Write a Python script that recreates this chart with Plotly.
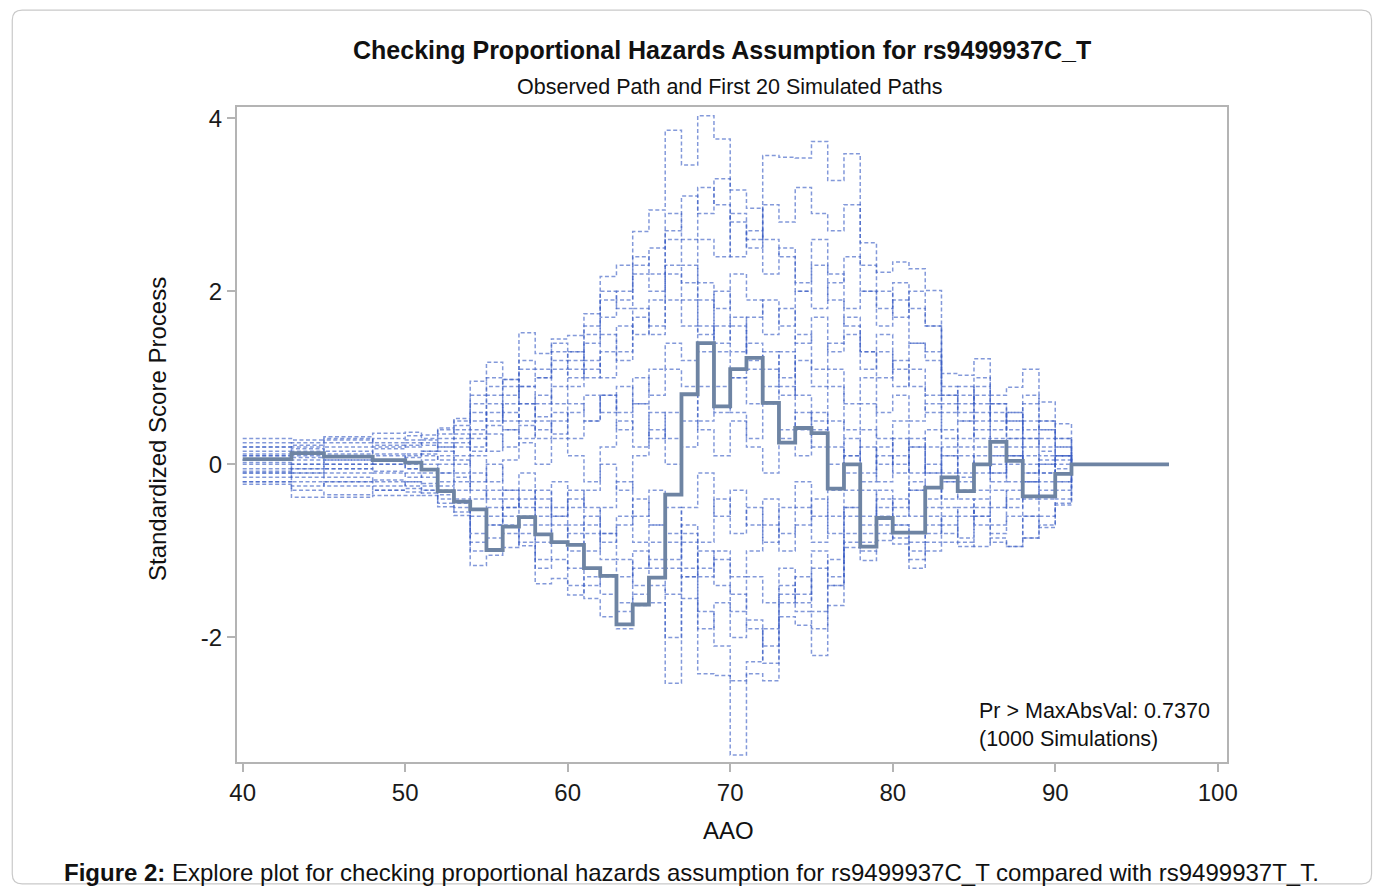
import plotly.graph_objects as go

# event times (AAO) where the score process steps; last value is end of follow-up
aao = [40, 43, 45, 48, 50, 51, 52, 53, 54, 55, 56, 57, 58, 59, 60, 61, 62, 63, 64, 65,
       66, 67, 68, 69, 70, 71, 72, 73, 74, 75, 76, 77, 78, 79, 80, 81, 82, 83, 84, 85,
       86, 87, 88, 89, 90, 91, 97]

observed = [0.06, 0.13, 0.09, 0.05, 0.02, -0.06, -0.31, -0.43, -0.52, -0.99, -0.72, -0.61,
            -0.81, -0.90, -0.93, -1.20, -1.29, -1.85, -1.62, -1.31, -0.35, 0.81, 1.40, 0.67,
            1.10, 1.23, 0.71, 0.25, 0.42, 0.36, -0.28, 0.00, -0.95, -0.62, -0.79, -0.79,
            -0.27, -0.15, -0.31, 0.00, 0.26, 0.04, -0.37, -0.37, -0.11, 0.00]

# first 20 simulated paths
path_a = [0.10, 0.15, 0.20, 0.22, 0.25, 0.28, 0.35, 0.45, 0.96, 1.18, 0.98, 1.52, 1.28, 1.45, 1.49, 1.74,
          2.17, 2.30, 2.69, 2.94, 3.86, 3.46, 4.03, 3.76, 3.17, 2.96, 2.6, 2.4, 2.1, 2.3, 1.9, 1.6,
          1.3, 1.0, 1.2, 0.9, 0.6, 0.3, 0.5, 0.3, 0.1, 0.2, -0.1, 0.0, 0.1, 0.0]
path_b = [0.2, 0.22, 0.25, 0.3, 0.33, 0.3, 0.42, 0.53, 0.7, 0.9, 0.8, 1.1, 1.0, 1.3, 1.2, 1.5,
          1.9, 2.0, 2.3, 2.5, 2.7, 3.1, 2.9, 3.3, 2.8, 2.6, 3.57, 3.55, 3.54, 3.73, 3.28, 3.59,
          2.56, 2.22, 2.34, 2.26, 2.01, 1.05, 1.03, 1.22, 0.8, 0.89, 1.1, 0.72, 0.47, 0.0]
path_c = [-0.1, -0.2, -0.25, -0.3, -0.32, -0.36, -0.49, -0.59, -0.8, -0.7, -0.96, -0.8, -1.2, -1.1, -1.4, -1.55,
          -1.76, -1.9, -1.5, -1.6, -2.0, -1.55, -2.42, -2.44, -3.36, -2.42, -2.5, -1.5, -1.7, -1.9, -1.4, -0.96,
          -1.0, -0.8, -0.85, -1.1, -1.0, -0.9, -0.9, -0.95, -0.85, -0.95, -0.85, -0.7, -0.45, 0.0]
path_d = [0.0, -0.1, -0.15, -0.2, -0.25, -0.3, -0.35, -0.45, -1.17, -1.05, -0.7, -0.94, -1.38, -1.32, -1.51, -1.3,
          -1.5, -1.6, -1.63, -1.4, -2.53, -1.3, -1.7, -2.1, -2.5, -2.28, -1.9, -1.4, -1.6, -1.2, -1.4, -0.8,
          -0.6, -0.7, -0.4, -0.6, -0.7, -0.5, -0.6, -0.4, -0.5, -0.3, -0.4, -0.2, -0.3, 0.0]
path_e = [0.15, 0.1, 0.12, 0.18, 0.2, 0.15, 0.25, 0.3, 0.6, 0.5, 0.7, 0.9, 1.0, 1.2, 1.0, 1.4,
          1.7, 1.9, 2.2, 2.0, 2.9, 2.6, 3.2, 3.0, 2.4, 2.7, 2.2, 2.5, 2.0, 2.6, 2.2, 1.8,
          2.0, 1.6, 1.9, 1.4, 1.3, 0.8, 0.9, 0.7, 0.5, 0.6, 0.4, 0.5, 0.3, 0.0]
path_f = [0.05, 0.08, 0.05, 0.1, 0.12, 0.1, 0.05, 0.2, 0.35, 0.6, 0.4, 0.7, 0.55, 0.9, 1.1, 1.0,
          1.3, 1.6, 1.5, 1.9, 2.3, 2.1, 2.6, 2.4, 2.9, 2.5, 3.0, 2.8, 3.2, 2.9, 2.7, 3.0,
          2.3, 2.0, 1.7, 2.0, 1.6, 0.9, 0.7, 1.0, 0.6, 0.4, 0.7, 0.4, 0.2, 0.0]
path_g = [0.25, 0.2, 0.3, 0.25, 0.28, 0.22, 0.3, 0.4, 0.5, 0.8, 0.6, 0.5, 0.8, 0.7, 0.9, 1.2,
          1.0, 1.3, 1.7, 1.5, 1.9, 1.6, 2.1, 1.8, 2.2, 1.9, 1.5, 1.8, 1.4, 1.7, 1.3, 1.5,
          1.1, 1.3, 0.9, 1.1, 0.8, 0.6, 0.8, 0.5, 0.7, 0.3, 0.5, 0.2, 0.1, 0.0]
path_h = [-0.05, 0.0, 0.05, 0.0, -0.05, 0.05, 0.1, 0.0, 0.3, 0.15, 0.4, 0.3, 0.5, 0.35, 0.6, 0.8,
          0.6, 0.9, 0.7, 1.1, 1.4, 1.2, 1.6, 1.3, 1.0, 1.4, 1.1, 0.8, 1.2, 0.9, 1.1, 0.7,
          1.0, 0.6, 0.8, 0.5, 0.7, 0.4, 0.2, 0.4, 0.1, 0.3, 0.0, 0.15, -0.1, 0.0]
path_i = [0.1, 0.05, 0.0, 0.05, 0.0, -0.05, 0.0, -0.1, 0.1, -0.2, 0.05, 0.25, 0.0, 0.3, 0.1, -0.2,
          0.2, 0.5, 0.2, 0.6, 0.3, 0.8, 0.4, 0.1, 0.5, 0.2, -0.1, 0.3, 0.6, 0.2, 0.5, 0.1,
          0.4, 0.0, 0.3, -0.1, 0.2, -0.2, 0.1, -0.1, 0.2, 0.0, 0.3, 0.1, -0.05, 0.0]
path_j = [-0.15, -0.1, -0.05, -0.1, -0.15, -0.1, -0.2, -0.3, -0.1, -0.4, -0.3, -0.5, -0.3, -0.6, -0.4, -0.7,
          -0.5, -0.2, -0.6, -0.3, -0.8, -0.5, -0.1, -0.6, -0.3, -0.7, -0.4, -0.8, -0.5, -0.9, -0.6, -0.3,
          -0.7, -0.4, -0.6, -0.3, -0.5, -0.2, -0.4, -0.6, -0.3, -0.5, -0.2, -0.4, -0.2, 0.0]
path_k = [-0.2, -0.25, -0.2, -0.25, -0.2, -0.25, -0.3, -0.4, -0.6, -0.5, -0.8, -0.6, -0.9, -0.7, -1.0, -0.8,
          -1.1, -1.3, -1.0, -1.2, -0.9, -1.3, -1.0, -1.4, -1.7, -1.3, -1.6, -1.2, -1.5, -1.0, -1.3, -0.6,
          -0.9, -0.5, -0.7, -0.9, -0.6, -0.8, -0.5, -0.7, -0.8, -0.6, -0.85, -0.6, -0.4, 0.0]
path_l = [0.02, -0.05, -0.1, -0.08, -0.1, -0.15, -0.1, -0.2, -0.4, -0.3, -0.5, -0.4, -0.6, -0.9, -0.7, -1.0,
          -0.8, -1.1, -1.4, -1.1, -1.5, -1.2, -1.9, -1.6, -2.0, -1.8, -2.3, -1.6, -1.3, -1.7, -1.1, -0.5,
          -0.8, -0.3, -0.5, -0.2, -0.4, -0.1, -0.3, 0.0, -0.2, 0.1, -0.1, 0.05, -0.1, 0.0]
path_m = [-0.1, -0.05, 0.0, 0.05, 0.1, 0.15, 0.2, 0.1, 0.4, 0.7, 0.5, 0.9, 0.7, 1.1, 1.3, 1.1,
          1.5, 1.2, 1.8, 1.6, 2.2, 1.9, 1.5, 2.0, 1.6, 1.2, 0.9, 1.3, 0.8, 0.5, 0.9, 0.4,
          0.7, 0.3, 0.0, 0.3, -0.1, 0.2, -0.2, 0.1, -0.1, 0.1, -0.2, 0.0, 0.1, 0.0]
path_n = [-0.2, -0.3, -0.35, -0.3, -0.28, -0.3, -0.4, -0.5, -0.9, -0.7, -0.4, -0.7, -0.5, -0.2, -0.5, -0.3,
          0.0, -0.3, 0.1, 0.4, 0.0, 0.5, 0.9, 0.6, 1.0, 0.7, 1.3, 1.0, 1.5, 1.1, 1.4, 1.7,
          1.3, 1.5, 1.1, 1.4, 1.2, 0.7, 0.5, 0.8, 0.4, 0.6, 0.3, 0.4, 0.2, 0.0]
path_o = [0.05, 0.0, -0.05, 0.0, -0.05, 0.0, -0.1, 0.05, -0.2, 0.0, -0.3, -0.1, -0.4, -0.6, -0.3, -0.5,
          -0.8, -0.6, -0.9, -0.7, -1.1, -0.8, -1.3, -1.1, -1.5, -1.9, -2.1, -1.76, -1.86, -2.21, -1.63, -0.9,
          -1.11, -0.88, -0.7, -1.0, -0.8, -0.6, -0.85, -0.5, -0.7, -0.4, -0.6, -0.3, -0.2, 0.0]
path_p = [0.3, 0.28, 0.32, 0.36, 0.37, 0.34, 0.4, 0.5, 0.8, 1.0, 0.9, 1.2, 1.1, 1.4, 1.3, 1.6,
          2.0, 1.8, 2.4, 2.2, 2.6, 2.3, 1.9, 1.4, 1.7, 1.1, 0.7, 0.9, 0.4, 0.6, 0.2, -0.1,
          0.2, -0.2, 0.1, -0.3, 0.0, -0.4, -0.1, -0.3, 0.0, -0.2, 0.1, -0.1, 0.05, 0.0]
path_q = [-0.23, -0.38, -0.38, -0.36, -0.36, -0.33, -0.45, -0.55, -1.0, -0.85, -0.6, -0.9, -1.1, -0.9, -1.2, -1.4,
          -1.3, -1.7, -1.2, -0.9, -1.2, -0.7, -0.9, -0.4, -0.8, -0.5, -0.9, -0.5, -0.2, -0.6, -0.3, 0.1,
          -0.2, 0.1, -0.1, 0.2, -0.1, 0.1, -0.15, 0.2, -0.1, 0.1, -0.2, -0.1, 0.0, 0.0]
path_r = [0.12, 0.18, 0.15, 0.12, 0.08, 0.12, 0.15, 0.25, 0.15, 0.35, 0.2, 0.45, 0.3, 0.5, 0.7, 0.5,
          0.8, 0.6, 1.0, 0.8, 1.1, 0.9, 1.3, 1.6, 1.3, 1.7, 1.9, 1.6, 2.0, 1.8, 2.1, 2.4,
          2.0, 1.8, 2.1, 1.8, 1.6, 0.8, 0.6, 0.9, 0.7, 0.5, 0.8, 0.5, 0.3, 0.0]
path_s = [-0.08, -0.15, -0.2, -0.18, -0.2, -0.22, -0.25, -0.15, -0.3, -0.6, -0.5, -0.3, -0.7, -0.5, -0.8, -0.6,
          -0.9, -0.7, -0.4, -0.7, -0.5, -0.9, -1.2, -1.0, -1.3, -1.0, -0.7, -1.0, -0.7, -0.4, -0.8, -0.5,
          -0.3, -0.6, -0.92, -1.2, -0.9, -0.7, -0.95, -0.6, -0.9, -0.95, -0.6, -0.73, -0.47, 0.0]
path_t = [0.2, 0.25, 0.28, 0.2, 0.22, 0.25, 0.2, 0.35, 0.2, 0.45, 0.98, 0.7, 0.4, 0.6, 0.3, 0.5,
          0.8, 0.4, 0.7, 0.3, 0.6, 0.2, 0.5, 0.9, 0.6, 0.3, 0.7, 0.4, 0.1, 0.4, 0.0, 0.3,
          -0.1, 0.2, 0.5, 0.2, 0.4, 0.1, 0.3, 0.6, 0.3, 0.5, 0.2, 0.3, 0.1, 0.0]

sim_paths = [path_a, path_b, path_c, path_d, path_e, path_f, path_g, path_h, path_i, path_j,
             path_k, path_l, path_m, path_n, path_o, path_p, path_q, path_r, path_s, path_t]

FONT = "Liberation Sans, Arial, sans-serif"
L, T, W, H = 237, 107, 990, 655   # plot area in page pixels


def px(xp):
    return (xp - L) / W


def py(yp):
    return (T + H - yp) / H


fig = go.Figure()

for path in sim_paths:
    fig.add_trace(go.Scatter(
        x=aao, y=path + [path[-1]],
        mode="lines", line_shape="hv",
        line=dict(color="rgba(55,90,195,0.62)", width=1.5, dash="4px,2.5px"),
        hoverinfo="skip", showlegend=False))

fig.add_trace(go.Scatter(
    x=aao, y=observed + [observed[-1]],
    mode="lines", line_shape="hv",
    line=dict(color="#6e84a3", width=3.8),
    name="Observed", showlegend=False))

axis_style = dict(showline=True, linecolor="#b4b4b4", linewidth=2, mirror=True,
                  ticks="outside", ticklen=8, tickcolor="#b4b4b4", tickwidth=1.5,
                  showgrid=False, zeroline=False,
                  tickfont=dict(family=FONT, size=24, color="#1a1a1a"))

fig.update_xaxes(range=[39.65, 100.57], tickvals=[40, 50, 60, 70, 80, 90, 100], **axis_style)
fig.update_yaxes(range=[-3.44, 4.13], tickvals=[-2, 0, 2, 4], ticktext=["-2", "0", "2", "4"],
                 **axis_style)

# outer rounded border of the figure panel
fig.add_shape(type="path", xref="paper", yref="paper",
              path="M -0.217,1.148 L 1.136,1.148 Q 1.146,1.148 1.146,1.133 L 1.146,-0.171 "
                   "Q 1.146,-0.186 1.136,-0.186 L -0.217,-0.186 Q -0.227,-0.186 -0.227,-0.171 "
                   "L -0.227,1.133 Q -0.227,1.148 -0.217,1.148 Z",
              line=dict(color="#c9c9c9", width=1.2), layer="below")

fig.add_annotation(text="<b>Checking Proportional Hazards Assumption for rs9499937C_T</b>",
                   xref="paper", yref="paper", x=px(722), y=py(50),
                   showarrow=False, xanchor="center", yanchor="middle",
                   font=dict(family=FONT, size=25, color="#111111"))
fig.add_annotation(text="Observed Path and First 20 Simulated Paths",
                   xref="paper", yref="paper", x=px(729), y=py(87),
                   showarrow=False, xanchor="center", yanchor="middle",
                   font=dict(family=FONT, size=21.5, color="#111111"))
fig.add_annotation(text="Standardized Score Process", textangle=-90,
                   xref="paper", yref="paper", x=px(158), y=py(429),
                   showarrow=False, xanchor="center", yanchor="middle",
                   font=dict(family=FONT, size=24, color="#111111"))
fig.add_annotation(text="AAO",
                   xref="paper", yref="paper", x=px(728), y=py(830),
                   showarrow=False, xanchor="center", yanchor="middle",
                   font=dict(family=FONT, size=24, color="#111111"))
fig.add_annotation(text="Pr > MaxAbsVal: 0.7370<br>(1000 Simulations)",
                   xref="paper", yref="paper", x=px(977), y=py(725),
                   showarrow=False, xanchor="left", yanchor="middle", align="left",
                   font=dict(family=FONT, size=21.5, color="#111111"))
fig.add_annotation(text="<b>Figure 2:</b> Explore plot for checking proportional hazards assumption "
                        "for rs9499937C_T compared with rs9499937T_T.",
                   xref="paper", yref="paper", x=px(691), y=py(872),
                   showarrow=False, xanchor="center", yanchor="middle",
                   font=dict(family=FONT, size=24, color="#111111"))

fig.update_layout(
    width=1373, height=887,
    margin=dict(l=L, r=1373 - L - W, t=T, b=887 - T - H),
    paper_bgcolor="white", plot_bgcolor="white",
    font=dict(family=FONT, color="#111111"),
    showlegend=False,
)

fig.write_html("out.html", config={"displayModeBar": False},
               post_script="document.body.style.margin='0px';")
